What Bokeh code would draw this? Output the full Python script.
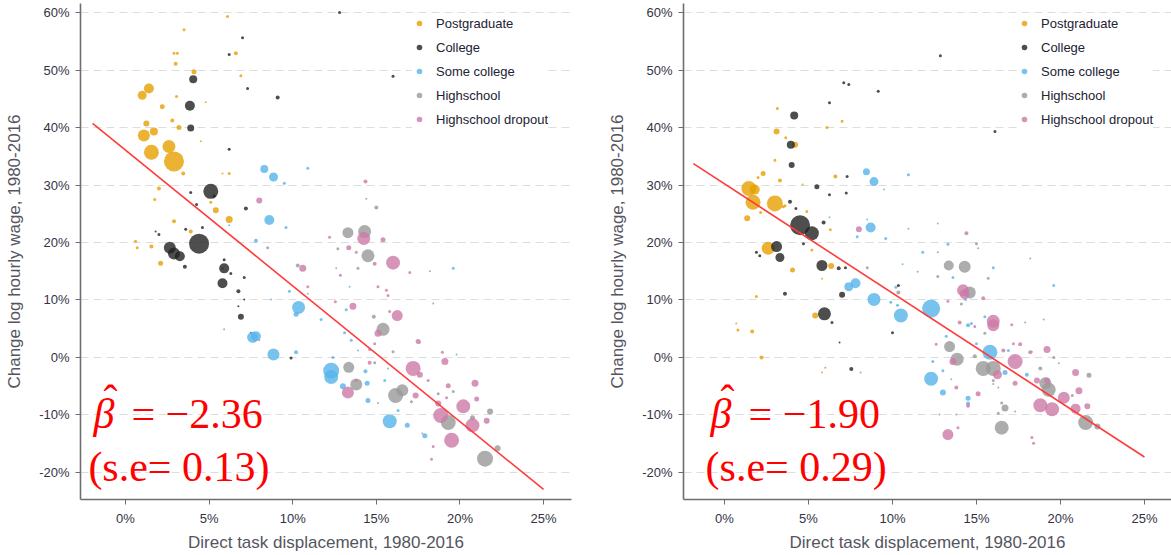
from bokeh.plotting import figure
from bokeh.layouts import row
from bokeh.models import Label, FixedTicker, PrintfTickFormatter, Range1d, ColumnDataSource
from bokeh.embed import file_html
from bokeh.resources import INLINE

GROUPS = ["Postgraduate", "College", "Some college", "Highschool", "Highschool dropout"]
COLORS = ["#E69F00", "#222222", "#56B4E9", "#999999", "#CC79A7"]
X_TICKS = [0, 5, 10, 15, 20, 25]
Y_TICKS = [-20, -10, 0, 10, 20, 30, 40, 50, 60]
X_LABEL = "Direct task displacement, 1980-2016"
Y_LABEL = "Change log hourly wage, 1980-2016"

# (displacement %, wage change %, marker diameter px)
left_postgrad = [(6.1,59.3,3),(3.5,57.0,3),(2.9,52.9,3),(3.1,52.9,3),(6.6,52.9,4),(3.0,51.1,4),(4.1,49.7,5),
    (6.9,49.0,3),(1.4,46.8,10),(1.0,45.6,9),(3.05,45.4,3),(2.2,43.6,5),(4.8,44.4,2),(2.8,41.2,4),(1.25,40.7,6),
    (3.2,40.0,5),(1.7,39.3,8),(1.1,38.6,12),(4.5,37.6,2),(2.6,36.7,13),(1.55,35.7,15),(2.9,34.1,20),(3.45,32.0,4),
    (5.8,32.0,2),(6.2,32.0,3),(2.0,29.4,4),(1.75,27.5,3),(5.1,27.0,3),(5.4,25.6,6),(6.2,24.0,7),(2.9,23.7,4),
    (3.9,21.9,4),(0.6,20.2,3),(0.7,19.1,3),(1.55,19.3,4),(2.1,16.4,5),(5.8,15.5,3)]
left_college = [(7.0,55.6,3),(6.2,52.7,3),(7.3,46.8,3),(9.1,45.2,4),(4.05,48.4,8),(3.85,43.8,10),(3.9,39.9,7),
    (6.2,36.2,3),(5.1,28.9,15),(5.3,28.1,3),(3.9,28.7,3),(4.25,26.6,3),(7.2,25.9,4),(3.6,22.3,3),(4.6,22.6,3),
    (1.8,21.9,2),(2.0,21.4,3),(4.4,19.8,20),(2.65,19.1,12),(2.9,18.1,12),(3.25,17.6,10),(3.55,15.8,4),(5.9,17.0,3),
    (5.9,15.5,10),(7.1,13.9,3),(5.8,12.9,10),(6.75,11.5,4),(7.1,10.1,2),(6.75,8.9,2),(6.9,7.1,6),(7.5,4.3,2),
    (9.9,-0.1,3),(12.8,60.0,3),(16.0,48.9,3),(6.3,14.6,3)]
left_somecollege = [(8.3,32.8,8),(8.85,31.4,9),(9.5,30.3,3),(8.6,23.9,10),(9.6,22.6,3),(7.8,20.3,4),(6.2,23.0,2),
    (10.9,32.9,3),(12.6,15.5,2),(19.6,15.5,3),(10.35,8.7,13),(10.2,7.5,5),(9.8,11.5,3),(8.7,10.1,2),(7.6,3.5,11),
    (7.8,3.7,10),(8.85,0.5,12),(10.2,0.9,4),(11.7,6.6,3),(13.2,8.3,3),(13.1,4.3,3),(13.5,3.0,3),(13.4,12.3,2),
    (12.3,-2.3,16),(12.3,-3.4,14),(13.0,-5.0,6),(14.35,-2.4,4),(14.45,-4.5,5),(14.5,-7.5,5),(15.8,-11.1,14),
    (16.85,-11.8,5),(17.9,-13.6,5),(16.3,-9.2,3),(15.5,-4.0,3),(19.8,0.5,2),(13.9,1.2,2),(12.4,0.0,3),(10.9,11.1,2)]
left_highschool = [(15.0,26.1,4),(13.3,21.7,11),(14.3,21.9,13),(14.5,17.7,13),(13.8,18.3,3),(12.7,18.9,3),
    (13.9,15.5,3),(10.3,16.0,4),(8.5,19.1,3),(14.85,7.1,4),(15.4,4.9,13),(16.0,1.0,3),(13.35,-1.7,11),(13.8,-4.7,12),
    (16.15,-6.6,15),(16.55,-5.7,12),(14.9,-0.9,3),(15.7,-1.9,2),(18.7,-6.3,3),(19.6,-5.9,3),(19.3,-11.3,15),
    (20.75,-10.5,5),(21.8,-9.4,6),(21.5,-17.6,16),(22.25,-15.8,6),(18.4,9.4,2),(17.6,2.6,2),(17.1,-7.7,3),
    (17.75,-13.2,2),(15.1,-7.9,2)]
left_dropout = [(8.0,27.3,6),(14.35,30.6,4),(14.4,27.6,2),(12.2,20.9,3),(14.25,20.7,13),(15.4,20.5,5),(13.35,19.1,5),
    (16.0,16.5,14),(10.6,15.5,7),(14.9,16.3,4),(12.85,14.3,3),(17.0,14.8,3),(18.2,15.0,2),(10.9,12.3,3),(15.1,12.3,3),
    (15.6,11.7,3),(15.7,10.8,3),(12.55,9.7,3),(13.6,8.9,7),(16.25,7.3,11),(15.8,8.0,3),(5.9,4.9,2),(15.1,4.2,7),
    (14.9,2.4,3),(14.6,1.4,3),(17.5,2.8,5),(18.95,0.9,3),(19.1,-0.7,7),(17.2,-1.9,15),(17.6,-3.0,6),(18.1,-4.0,3),
    (14.6,-0.9,4),(13.8,-4.0,3),(13.3,-6.1,12),(17.35,-6.6,6),(19.3,-4.9,5),(18.7,-8.0,6),(18.85,-10.1,15),
    (20.2,-8.5,14),(20.9,-4.5,7),(21.0,-7.2,5),(20.75,-11.8,14),(19.5,-14.4,15),(18.4,-15.5,3),(21.6,-11.0,6),
    (18.3,-17.7,3),(19.2,-7.0,3),(8.0,3.0,2)]

right_postgrad = [(3.15,43.3,3),(3.1,39.3,6),(3.65,38.2,3),(4.2,37.0,6),(3.0,34.3,3),(6.1,40.0,3),(7.0,41.1,3),
    (2.3,32.0,5),(2.0,31.3,3),(3.3,30.8,4),(1.45,29.4,15),(1.8,29.2,10),(1.7,27.0,15),(3.0,26.8,16),(3.6,26.4,3),
    (4.65,30.1,2),(6.6,31.5,4),(4.9,25.4,3),(2.15,25.2,3),(1.35,24.2,6),(2.6,19.0,13),(6.3,22.2,3),(5.2,18.7,3),
    (4.05,15.2,5),(6.35,15.9,6),(5.8,13.7,2),(1.9,10.6,3),(0.7,5.9,2),(0.8,4.8,3),(1.65,4.5,4),(2.2,0.0,4),
    (5.4,7.3,6),(5.8,-2.6,2),(3.5,26.2,3)]
right_college = [(12.85,52.5,3),(9.15,46.3,3),(16.1,39.3,3),(7.1,47.8,3),(7.4,47.5,3),(6.25,44.3,3),(4.15,42.1,8),
    (3.95,37.0,8),(4.0,33.5,6),(5.5,29.7,5),(7.3,31.5,3),(7.25,28.6,3),(6.25,28.3,3),(3.9,27.1,4),(4.25,25.9,3),
    (4.5,23.0,20),(5.2,21.6,14),(5.9,23.5,4),(4.7,19.8,3),(3.1,19.3,11),(3.3,17.4,9),(1.9,18.3,3),(2.1,17.7,3),
    (5.8,16.0,11),(6.8,15.5,4),(7.2,15.6,3),(3.6,11.1,4),(7.0,10.9,6),(5.95,7.6,13),(6.4,6.1,3),(6.85,2.6,2),
    (7.55,-2.0,4),(10.0,4.3,3),(10.35,12.5,3)]
right_somecollege = [(8.45,32.3,7),(8.9,30.6,9),(10.95,31.8,3),(9.5,29.2,2),(8.7,22.6,10),(7.9,21.0,3),(8.5,24.0,2),
    (9.6,20.7,3),(10.95,22.4,2),(6.25,24.4,2),(7.8,12.9,10),(7.4,12.3,9),(8.9,10.1,13),(10.5,7.3,14),(10.2,12.2,3),
    (9.9,9.6,3),(10.3,9.1,3),(12.3,8.5,18),(10.6,16.2,2),(11.8,18.3,3),(12.7,23.3,2),(13.3,19.7,3),(13.6,13.9,3),
    (16.0,15.6,3),(19.6,12.5,3),(14.35,10.1,3),(14.5,5.6,4),(14.7,5.9,3),(15.5,7.1,3),(13.2,3.7,3),(15.0,2.4,3),
    (15.8,0.9,15),(16.7,-2.6,5),(18.0,-3.0,4),(12.3,-3.7,14),(13.0,-2.3,3),(13.0,-6.1,6),(12.4,-0.7,3),(13.5,-3.8,2),
    (14.5,-7.1,5),(14.5,-8.0,4),(16.9,1.2,3),(18.3,1.0,2),(19.9,-1.0,2)]
right_highschool = [(13.35,16.0,10),(14.3,15.8,12),(15.0,19.8,3),(8.5,15.6,3),(10.35,11.3,4),(14.6,11.3,12),
    (13.4,1.9,11),(13.85,-0.3,13),(15.4,-1.9,15),(16.0,-1.9,15),(14.9,0.2,4),(16.0,-4.0,3),(16.7,-8.8,7),
    (16.3,-9.7,3),(16.5,-12.2,14),(16.5,-7.9,3),(19.3,-5.6,14),(19.1,-4.5,12),(21.5,-11.3,15),(22.2,-12.0,6),
    (21.7,-3.1,5),(20.7,-6.6,3),(19.6,0.0,3),(18.8,-1.9,4),(12.7,14.1,3),(15.5,4.2,3),(16.0,-4.6,2),(13.8,-9.9,2),
    (17.3,-9.4,2),(14.1,9.3,3),(15.7,13.8,3)]
right_dropout = [(8.0,22.3,6),(14.4,21.6,4),(15.1,19.0,2),(12.7,18.3,2),(11.5,14.9,2),(18.2,17.2,2),(14.2,11.7,12),
    (14.3,11.0,10),(15.4,10.3,4),(13.3,9.8,3),(16.0,6.3,13),(16.0,5.6,12),(14.0,6.1,4),(14.9,5.4,3),(17.1,5.7,3),
    (19.0,6.6,2),(17.9,6.1,2),(12.6,2.3,3),(13.6,-0.7,7),(17.3,-0.7,15),(17.2,2.4,3),(17.6,2.3,4),(18.2,0.9,4),
    (19.2,1.4,7),(16.6,1.2,4),(16.25,-3.0,9),(17.3,-4.5,5),(16.3,-5.2,2),(13.8,-5.2,4),(15.1,-6.3,5),(14.5,-8.4,4),
    (18.6,-4.0,6),(19.2,-4.0,6),(20.9,-2.6,7),(18.8,-8.3,14),(19.5,-9.0,14),(20.2,-7.0,12),(20.9,-8.9,10),
    (21.6,-8.5,6),(21.1,-5.8,7),(13.3,-13.4,11),(12.8,-9.9,2),(13.9,-12.2,3),(18.3,-13.9,3),(18.4,-14.9,3),
    (6.0,-1.8,2),(8.1,-2.6,2)]

# regression fits (slope, intercept, s.e.), fitted line x extent, annotation anchor x
left_fit = dict(slope=-2.36, intercept=36.05, se=0.13, x=[-1.97, 25.0], text_x=-1.92)
right_fit = dict(slope=-1.90, intercept=30.2, se=0.29, x=[-1.85, 25.0], text_x=-0.83)

SANS = "Liberation Sans"
SERIF = "Liberation Serif"


def panel(groups, fit, width, bl, br, xr):
    p = figure(width=width, height=555, output_backend="svg", toolbar_location=None,
               x_range=Range1d(*xr), y_range=Range1d(-24.70, 61.57),
               min_border_left=bl, min_border_right=br, min_border_top=3, min_border_bottom=56,
               outline_line_color=None, background_fill_color="white")
    for name, color, pts in zip(GROUPS, COLORS, groups):
        src = ColumnDataSource(dict(x=[a[0] for a in pts], y=[a[1] for a in pts], s=[a[2] for a in pts]))
        p.scatter("x", "y", size="s", source=src, fill_color=color, fill_alpha=0.8,
                  line_color=None, legend_label=name)
    fx = fit["x"]
    p.line(fx, [fit["intercept"] + fit["slope"] * v for v in fx], line_color="#FF3B3B", line_width=1.6)

    p.xaxis.ticker = FixedTicker(ticks=X_TICKS)
    p.yaxis.ticker = FixedTicker(ticks=Y_TICKS)
    p.xaxis.formatter = PrintfTickFormatter(format="%d%%")
    p.yaxis.formatter = PrintfTickFormatter(format="%d%%")
    p.xgrid.visible = False
    p.ygrid.grid_line_color = "#dddddd"
    p.ygrid.grid_line_dash = "8 5"
    p.ygrid.grid_line_width = 1
    for ax in (p.xaxis[0], p.yaxis[0]):
        ax.axis_line_color = "#6e6e6e"
        ax.axis_line_width = 1.6
        ax.major_tick_line_color = "#6e6e6e"
        ax.major_tick_in = 0
        ax.major_tick_out = 5
        ax.minor_tick_line_color = None
        ax.major_label_text_font = SANS
        ax.major_label_text_font_size = "13px"
        ax.major_label_text_color = "#333344"
        ax.axis_label_text_font = SANS
        ax.axis_label_text_font_size = "17px"
        ax.axis_label_text_font_style = "normal"
        ax.axis_label_text_color = "#555560"
    p.xaxis.axis_label = X_LABEL
    p.yaxis.axis_label = Y_LABEL
    p.xaxis.major_label_standoff = 6
    p.xaxis.axis_label_standoff = 4
    p.yaxis.major_label_standoff = 6
    p.yaxis.axis_label_standoff = 12

    lg = p.legend[0]
    lg.margin = 0
    lg.padding = 3
    lg.spacing = 4
    lg.glyph_width = 14
    lg.glyph_height = 20
    lg.label_height = 20
    lg.label_standoff = 10
    lg.label_text_font = SANS
    lg.label_text_font_size = "13px"
    lg.label_text_color = "#222233"
    lg.border_line_color = None
    lg.background_fill_color = "white"
    lg.background_fill_alpha = 1.0

    bx = fit["text_x"]
    p.add_layout(Label(x=bx, y=-9.9, text="β", text_font=SERIF, text_font_size="42px",
                       text_font_style="italic", text_color="#FF0000", text_baseline="alphabetic"))
    p.add_layout(Label(x=bx, y=-9.9, x_offset=17, y_offset=14, text="ˆ", text_font=SERIF,
                       text_font_size="42px", text_align="center", text_color="#FF0000",
                       text_baseline="alphabetic"))
    p.add_layout(Label(x=bx, y=-9.9, x_offset=38, text="= −%.2f" % abs(fit["slope"]), text_font=SERIF,
                       text_font_size="42px", text_color="#FF0000", text_baseline="alphabetic"))
    p.add_layout(Label(x=bx, y=-19.1, x_offset=-5, text="(s.e= %.2f)" % fit["se"], text_font=SERIF,
                       text_font_size="42px", text_color="#FF0000", text_baseline="alphabetic"))
    return p


p1 = panel([left_postgrad, left_college, left_somecollege, left_highschool, left_dropout], left_fit,
           585, 80, 14, (-2.69, 26.67))
p2 = panel([right_postgrad, right_college, right_somecollege, right_highschool, right_dropout], right_fit,
           586, 98, 0, (-2.44, 26.61))
p1.legend[0].location = (332, 370)
p2.legend[0].location = (334, 370)

layout = row(p1, p2)
open("out.html", "w").write(file_html(layout, INLINE))
